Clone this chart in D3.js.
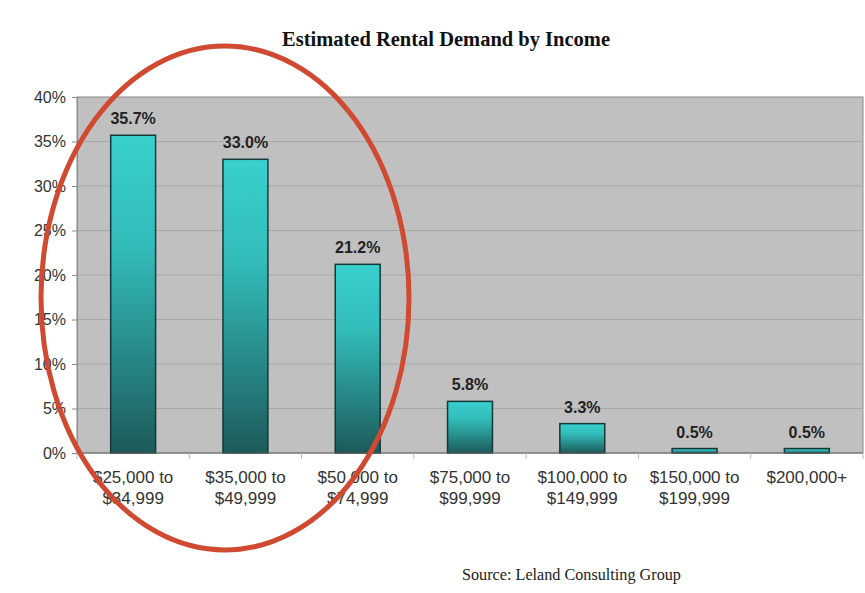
<!DOCTYPE html>
<html><head><meta charset="utf-8">
<script src="https://cdn.jsdelivr.net/npm/d3@7"></script>
<style>body{margin:0;background:#fff}svg{display:block}</style>
</head><body>
<script>
const categories = [["$25,000 to","$34,999"],["$35,000 to","$49,999"],["$50,000 to","$74,999"],["$75,000 to","$99,999"],["$100,000  to","$149,999"],["$150,000 to","$199,999"],["$200,000+"]];
const values = [35.7, 33.0, 21.2, 5.8, 3.3, 0.5, 0.5];
const yTicks = [0,5,10,15,20,25,30,35,40];
const title = "Estimated Rental Demand by Income";
const source = "Source: Leland Consulting Group";

const W=865,H=593;
const m={left:77,right:2,top:97,bottom:140};
const svg=d3.select("body").append("svg").attr("width",W).attr("height",H);
const defs=svg.append("defs");
const g1=defs.append("linearGradient").attr("id","bg").attr("x1",0).attr("y1",0).attr("x2",0).attr("y2",1);
g1.append("stop").attr("offset","0%").attr("stop-color","#38d0cd");
g1.append("stop").attr("offset","35%").attr("stop-color","#32bcba");
g1.append("stop").attr("offset","100%").attr("stop-color","#1d5a5a");

const x=d3.scaleBand().domain(d3.range(categories.length)).range([m.left,W-m.right]).paddingInner(0.6).paddingOuter(0.3);
const xb=d3.scaleBand().domain(d3.range(categories.length)).range([m.left,W-m.right]);
const y=d3.scaleLinear().domain([0,40]).range([H-m.bottom,m.top]);

svg.append("rect").attr("x",m.left).attr("y",m.top).attr("width",W-m.right-m.left).attr("height",y(0)-m.top).attr("fill","#c0c0c0").attr("stroke","#8a8a8a").attr("stroke-width",1);
svg.append("g").selectAll("line").data(yTicks.filter(d=>d>0&&d<40)).join("line")
 .attr("x1",m.left).attr("x2",W-m.right).attr("y1",d=>y(d)).attr("y2",d=>y(d)).attr("stroke","#a8a8a8").attr("stroke-width",1);

const ya=svg.append("g").attr("transform",`translate(${m.left},0)`).call(d3.axisLeft(y).tickValues(yTicks).tickFormat(d=>d+"%").tickSize(5).tickPadding(6));
ya.select(".domain").attr("stroke","#8a8a8a");
ya.selectAll("line").attr("stroke","#8a8a8a");
ya.selectAll("text").attr("font-family","Liberation Sans, Arial, sans-serif").attr("font-size",16).attr("fill","#333");

svg.append("g").selectAll("rect").data(values).join("rect")
 .attr("x",(d,i)=>x(i)).attr("width",x.bandwidth()).attr("y",d=>y(d)).attr("height",d=>y(0)-y(d))
 .attr("fill","url(#bg)").attr("stroke","#143838").attr("stroke-width",1.5);

svg.append("g").selectAll("text").data(values).join("text")
 .attr("x",(d,i)=>x(i)+x.bandwidth()/2).attr("y",d=>y(d)-11).attr("text-anchor","middle")
 .attr("font-family","Liberation Sans, Arial, sans-serif").attr("font-weight","bold").attr("font-size",16).attr("fill","#222")
 .text(d=>d.toFixed(1)+"%");

svg.append("line").attr("x1",m.left).attr("x2",W-m.right).attr("y1",y(0)).attr("y2",y(0)).attr("stroke","#6a6a6a");
svg.append("g").selectAll("line").data(d3.range(categories.length+1)).join("line")
 .attr("x1",i=>i<categories.length?xb(i):W-m.right).attr("x2",i=>i<categories.length?xb(i):W-m.right)
 .attr("y1",y(0)).attr("y2",y(0)+6).attr("stroke","#bbb");

const xl=svg.append("g").selectAll("text").data(categories).join("text")
 .attr("x",(d,i)=>xb(i)+xb.bandwidth()/2).attr("y",y(0)+30).attr("text-anchor","middle")
 .attr("font-family","Liberation Sans, Arial, sans-serif").attr("font-size",17).attr("fill","#333");
xl.selectAll("tspan").data(d=>d).join("tspan").attr("x",function(){return this.parentNode.getAttribute("x");}).attr("dy",(d,i)=>i?21:0).text(d=>d);

svg.append("text").attr("x",446).attr("y",46).attr("text-anchor","middle")
 .attr("font-family","Liberation Serif, DejaVu Serif, serif").attr("font-weight","bold").attr("font-size",20.5).attr("fill","#111").text(title);
svg.append("text").attr("x",462).attr("y",580)
 .attr("font-family","Liberation Serif, DejaVu Serif, serif").attr("font-size",16.2).attr("fill","#222").text(source);

svg.append("ellipse").attr("cx",225).attr("cy",298).attr("rx",184).attr("ry",252)
 .attr("fill","none").attr("stroke","#cf4a30").attr("stroke-width",5);
</script>
</body></html>
